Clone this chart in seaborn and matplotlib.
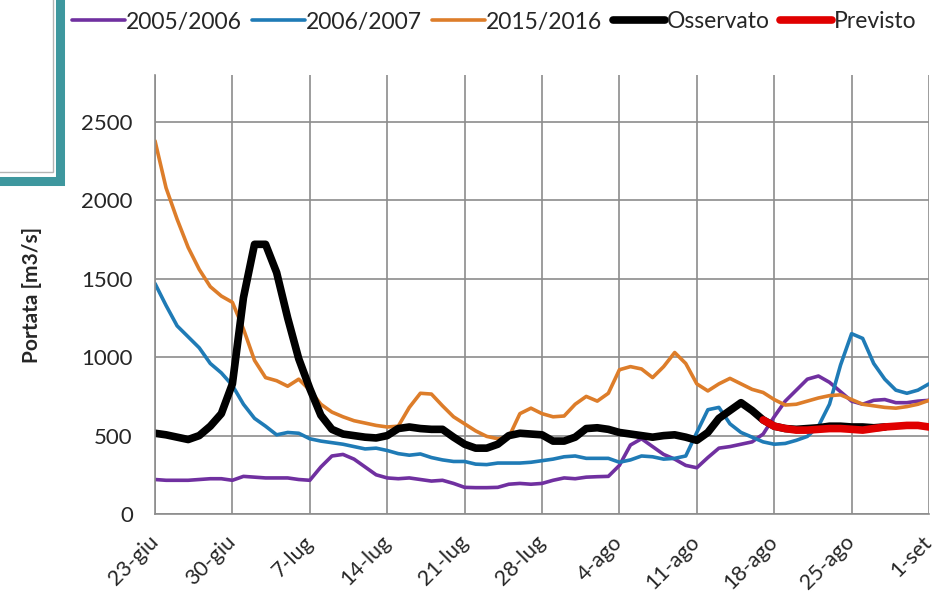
import numpy as np
import pandas as pd
import matplotlib
matplotlib.use("Agg")
import matplotlib.pyplot as plt
from matplotlib.patches import Rectangle
import seaborn as sns

# daily flow, 23-giu .. 1-set (71 days)
tick_labels = ["23-giu", "30-giu", "7-lug", "14-lug", "21-lug", "28-lug",
               "4-ago", "11-ago", "18-ago", "25-ago", "1-set"]

y_2005 = [220, 215, 215, 215, 220, 225, 225, 215, 240, 235,
          230, 230, 230, 220, 215, 300, 370, 380, 350, 300,
          250, 230, 225, 230, 220, 210, 215, 195, 170, 168,
          168, 170, 190, 195, 190, 195, 215, 230, 225, 235,
          238, 240, 310, 440, 480, 430, 380, 350, 310, 295,
          360, 420, 430, 445, 460, 510, 620, 720, 790, 860,
          880, 840, 780, 720, 700, 725, 730, 710, 710, 720, 725]

y_2006 = [1470, 1330, 1200, 1130, 1060, 960, 900, 820, 700, 610,
          560, 505, 520, 515, 480, 465, 455, 445, 430, 415,
          420, 405, 385, 375, 383, 360, 345, 335, 335, 318,
          315, 325, 325, 325, 330, 340, 350, 365, 370, 355,
          355, 355, 330, 345, 370, 365, 350, 355, 370, 520,
          665, 680, 575, 520, 490, 460, 445, 450, 470, 495,
          560, 700, 950, 1150, 1120, 960, 860, 790, 770, 790, 830]

y_2015 = [2380, 2080, 1880, 1700, 1560, 1450, 1390, 1350, 1180, 980,
          870, 850, 815, 860, 790, 700, 650, 620, 595, 580,
          565, 555, 560, 680, 770, 765, 690, 620, 575, 530,
          495, 480, 490, 640, 675, 640, 620, 625, 700, 750,
          720, 770, 920, 940, 925, 870, 940, 1030, 960, 830,
          785, 830, 865, 830, 795, 775, 730, 695, 700, 720,
          740, 755, 760, 730, 700, 690, 680, 675, 685, 700, 725]

osservato = [515, 505, 490, 475, 500, 560, 640, 830, 1380, 1720,
             1720, 1540, 1250, 990, 800, 630, 540, 510, 500, 490,
             485, 500, 545, 555, 545, 540, 540, 490, 445, 420,
             420, 445, 500, 515, 510, 505, 465, 465, 490, 545,
             550, 540, 520, 510, 500, 490, 500, 505, 490, 470,
             520, 610, 660, 710, 660, 600, 560, 545, 540, 545,
             550, 560, 560, 555, 555, 550, 555, None, None, None, None]

previsto = [None] * 55 + [600, 560, 545, 535, 535, 540, 545, 545, 540, 535,
                          545, 555, 560, 565, 565, 555]

days = np.arange(71)
df = pd.DataFrame({"day": days, "2005/2006": y_2005, "2006/2007": y_2006,
                   "2015/2016": y_2015, "Osservato": osservato,
                   "Previsto": previsto}).astype(float)

sns.set_style("white")
plt.rcParams["font.family"] = ["Lato", "DejaVu Sans"]

fig = plt.figure(figsize=(9.36, 5.98), dpi=100)
ax = fig.add_axes([155 / 936, 1 - 514 / 598, 774 / 936, 439 / 598])

styles = [("2005/2006", "#7030A0", 2.6),
          ("2006/2007", "#1F7BB6", 2.6),
          ("2015/2016", "#DD7D2A", 2.6),
          ("Osservato", "#000000", 5.5),
          ("Previsto", "#E00000", 5.5)]
for name, col, lw in styles:
    sns.lineplot(data=df, x="day", y=name, ax=ax, color=col, lw=lw,
                 label=name, solid_capstyle="round", solid_joinstyle="round")

ax.set_xlim(0, 70)
ax.set_ylim(0, 2800)
ax.set_xticks(np.arange(0, 71, 7))
ax.set_xticklabels(tick_labels, rotation=45, ha="right", va="center",
                   rotation_mode="anchor", fontsize=15.5)
ax.set_yticks(np.arange(0, 2501, 500))
ax.tick_params(axis="y", labelsize=16, pad=16, length=0)
ax.tick_params(axis="x", pad=18, length=0)
ax.grid(True, color="#8c8c8c", lw=1.2)
for s in ["top", "right"]:
    ax.spines[s].set_visible(False)
for s in ["left", "bottom"]:
    ax.spines[s].set_color("#8c8c8c")
    ax.spines[s].set_linewidth(1.2)
ax.set_xlabel("")
ax.set_ylabel("Portata [m3/s]", fontsize=15, fontweight="bold", labelpad=28)

fig.legend(*ax.get_legend_handles_labels(), loc="center",
           bbox_to_anchor=(494 / 936, 1 - 22 / 598), ncol=5,
           frameon=False, fontsize=16.5, handlelength=2.3,
           handletextpad=0.05, columnspacing=0.45)
ax.get_legend().remove()

# teal frame in the top-left corner (only right and bottom edges visible)
fig.patches.append(Rectangle((-40 / 936, 1 - 181 / 598), 99.5 / 936, 221 / 598,
                             transform=fig.transFigure, fill=False,
                             edgecolor="#3E979E", lw=6.5))
fig.patches.append(Rectangle((-40 / 936, 1 - 172 / 598), 93 / 936, 212 / 598,
                             transform=fig.transFigure, fill=False,
                             edgecolor="#b5b5b5", lw=1))

fig.savefig("out.png", dpi=100)
